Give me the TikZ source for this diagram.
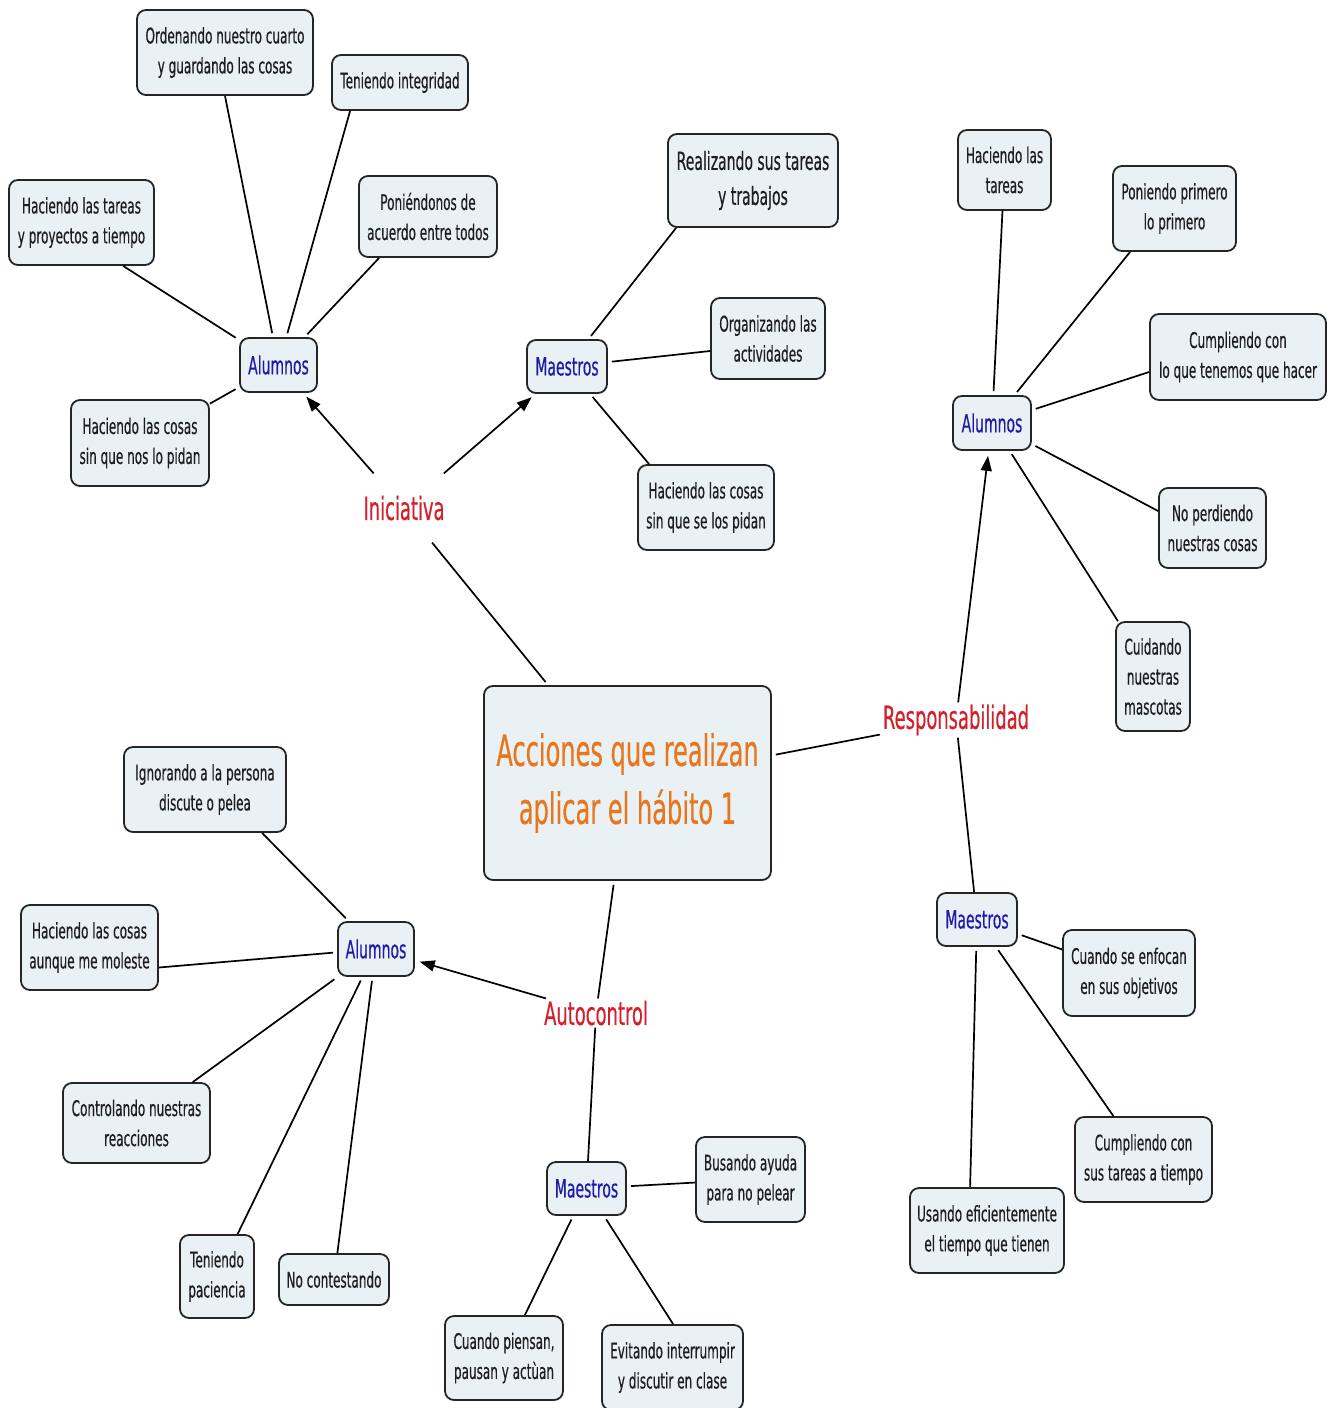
\documentclass[tikz,border=0pt]{standalone}
\usepackage{fontspec}
\setmainfont{DejaVu Sans}[FakeStretch=0.56, FakeBold=0.4]
\usetikzlibrary{arrows.meta}

\definecolor{boxfill}{HTML}{EAF1F4}
\definecolor{boxline}{HTML}{252525}
\definecolor{conceptblue}{HTML}{1C1CA8}
\definecolor{linkred}{HTML}{D2202C}
\definecolor{mainorange}{HTML}{E8761E}
\definecolor{leaftext}{HTML}{1E1E1E}

\tikzset{
  card/.style={draw=boxline, fill=boxfill, line width=1.8pt, rounded corners=9pt,
               align=center, inner sep=2pt},
  leaf/.style={card, text=leaftext, font=\fontsize{21.5}{30}\selectfont},
  concept/.style={card, text=conceptblue, font=\fontsize{25}{30}\selectfont},
  hub/.style={card, text=mainorange, font=\fontsize{43}{58}\selectfont},
  linkword/.style={text=linkred, font=\fontsize{32}{36}\selectfont,
                   inner xsep=3pt, inner ysep=2pt},
  sz/.style 2 args={minimum width=#1pt, minimum height=#2pt},
  tie/.style={line width=1.7pt, draw=black, shorten <=4pt},
  branch/.style={line width=1.7pt, draw=black, shorten >=5pt,
                 -{Triangle[length=15pt,width=11pt]}},
}

\begin{document}
\begin{tikzpicture}[x=1pt,y=-1pt]
\fill[white] (0,0) rectangle (1335,1408);
\useasboundingbox (0,0) rectangle (1335,1408);

% central topic
\node[hub, sz={287}{194}] (hub) at (627.5,783) {Acciones que realizan\\aplicar el hábito 1};

% linking words
\node[linkword, inner ysep=22pt] (ini) at (404,508) {Iniciativa};
\node[linkword] (resp) at (956,720) {Responsabilidad};
\node[linkword] (auto) at (596,1013) {Autocontrol};

% Iniciativa: students
\node[concept, sz={77}{54}] (a1) at (278.5,365) {Alumnos};
\node[leaf, sz={176}{85}] (a1o) at (225,52.5) {Ordenando nuestro cuarto\\y guardando las cosas};
\node[leaf, sz={136}{55}] (a1t) at (400,82.5) {Teniendo integridad};
\node[leaf, sz={145}{85}] (a1h) at (81.5,222.5) {Haciendo las tareas\\y proyectos a tiempo};
\node[leaf, sz={138}{81}] (a1p) at (428,216.5) {Poniéndonos de\\acuerdo entre todos};
\node[leaf, sz={138}{86}] (a1c) at (140,443) {Haciendo las cosas\\sin que nos lo pidan};

% Iniciativa: teachers
\node[concept, sz={80}{53}] (m1) at (567,366.5) {Maestros};
\node[leaf, sz={170}{93}, font=\fontsize{25}{35}\selectfont] (m1r) at (753,180.5) {Realizando sus tareas\\y trabajos};
\node[leaf, sz={114}{81}] (m1o) at (768,338.5) {Organizando las\\actividades};
\node[leaf, sz={136}{85}] (m1h) at (706,507.5) {Haciendo las cosas\\sin que se los pidan};

% Responsabilidad: students
\node[concept, sz={78}{54}] (a2) at (992,423) {Alumnos};
\node[leaf, sz={93}{80}] (a2h) at (1004.5,170) {Haciendo las\\tareas};
\node[leaf, sz={123}{85}] (a2p) at (1174.5,208.5) {Poniendo primero\\lo primero};
\node[leaf, sz={176}{86}] (a2c) at (1238,357) {Cumpliendo con\\lo que tenemos que hacer};
\node[leaf, sz={107}{80}] (a2n) at (1212.5,528) {No perdiendo\\nuestras cosas};
\node[leaf, sz={74}{109}] (a2m) at (1153,676.5) {Cuidando\\nuestras\\mascotas};

% Responsabilidad: teachers
\node[concept, sz={80}{53}] (m3) at (977,919.5) {Maestros};
\node[leaf, sz={132}{86}] (m3e) at (1129,973) {Cuando se enfocan\\en sus objetivos};
\node[leaf, sz={137}{85}] (m3c) at (1143.5,1159.5) {Cumpliendo con\\sus tareas a tiempo};
\node[leaf, sz={154}{85}] (m3u) at (987,1230.5) {Usando eficientemente\\el tiempo que tienen};

% Autocontrol: students
\node[concept, sz={76}{54}] (a3) at (376,949) {Alumnos};
\node[leaf, sz={162}{85}] (a3i) at (205,789.5) {Ignorando a la persona\\discute o pelea};
\node[leaf, sz={137}{85}] (a3h) at (89.5,947.5) {Haciendo las cosas\\aunque me moleste};
\node[leaf, sz={147}{80}] (a3c) at (136.5,1123) {Controlando nuestras\\reacciones};
\node[leaf, sz={74}{83}] (a3t) at (217,1276.5) {Teniendo\\paciencia};
\node[leaf, sz={110}{51}] (a3n) at (334,1279.5) {No contestando};

% Autocontrol: teachers
\node[concept, sz={79}{53}] (m2) at (586.5,1188.5) {Maestros};
\node[leaf, sz={109}{85}] (m2b) at (750.5,1179.5) {Busando ayuda\\para no pelear};
\node[leaf, sz={118}{84}] (m2c) at (504,1358) {Cuando piensan,\\pausan y actùan};
\node[leaf, sz={141}{85}] (m2e) at (672.5,1367.5) {Evitando interrumpir\\y discutir en clase};

% hub to linking words
\draw[tie] (hub) -- (ini);
\draw[tie] (hub) -- (resp);
\draw[tie] (hub) -- (auto);

% linking words to groups
\draw[branch] (ini) -- (a1);
\draw[branch] (ini) -- (m1);
\draw[branch] (resp) -- (a2);
\draw[line width=1.7pt] (resp) -- (m3);
\draw[branch] (auto) -- (a3);
\draw[line width=1.7pt] (auto) -- (m2);

% groups to actions
\draw[tie] (a1) -- (a1o.south);
\draw[tie] (a1) -- ([xshift=19pt]a1t.south west);
\draw[tie] (a1) -- ([xshift=115pt]a1h.south west);
\draw[tie] (a1) -- ([xshift=21pt]a1p.south west);
\draw[tie] (a1) -- (a1c);

\draw[tie] (m1) -- ([xshift=9pt]m1r.south west);
\draw[tie] (m1) -- ([yshift=-12.5pt]m1o.west);
\draw[tie] (m1) -- ([xshift=12pt]m1h.north west);

\draw[tie] (a2) -- (a2h);
\draw[tie] (a2) -- ([xshift=18pt]a2p.south west);
\draw[tie] (a2) -- ([yshift=-15pt]a2c.west);
\draw[tie] (a2) -- ([yshift=17pt]a2n.west);
\draw[tie] (a2) -- (a2m);

\draw[tie] (m3) -- (m3e);
\draw[tie] (m3) -- (m3c);
\draw[tie] (m3) -- ([xshift=61pt]m3u.north west);

\draw[tie] (a3) -- ([xshift=139pt]a3i.south west);
\draw[tie] (a3) -- ([yshift=-20pt]a3h.east);
\draw[tie] (a3) -- (a3c);
\draw[tie] (a3) -- (a3t);
\draw[tie] (a3) -- (a3n);

\draw[tie] (m2) -- (m2b);
\draw[tie] (m2) -- (m2c);
\draw[tie] (m2) -- ([xshift=72pt]m2e.north west);
\end{tikzpicture}
\end{document}
